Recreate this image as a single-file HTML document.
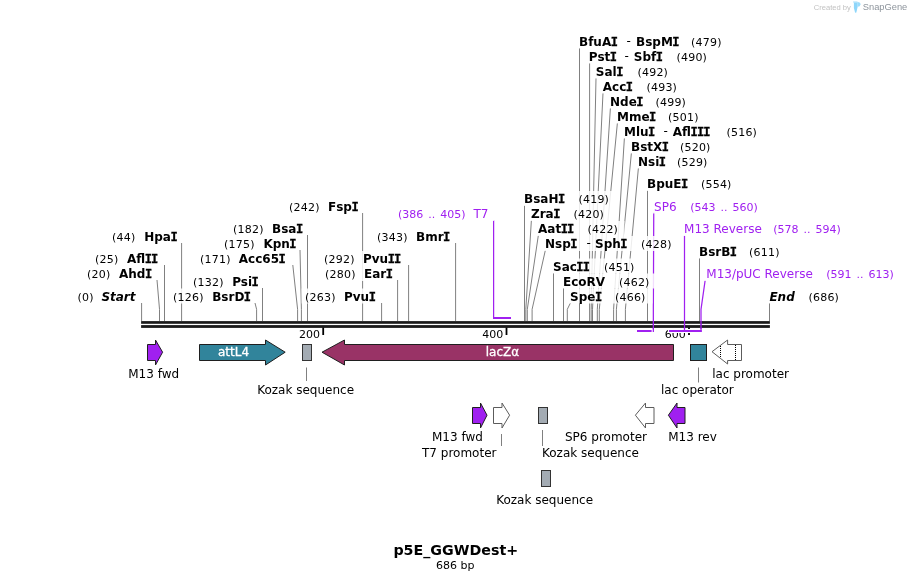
<!DOCTYPE html>
<html><head><meta charset="utf-8"><title>p5E_GGWDest+</title>
<style>
html,body{margin:0;padding:0;background:#fff}
svg{display:block}
text{font-family:"DejaVu Sans","Liberation Sans",sans-serif;fill:#000}
.b{font-size:12px;font-weight:bold}
.bi{font-size:12px;font-weight:bold;font-style:italic}
.mi{font-family:"DejaVu Sans Mono",monospace;font-weight:bold;stroke:#000;stroke-width:.35px}
.n{font-size:11px;letter-spacing:0.2px}
.k{font-size:11px}
.p{font-size:12px;fill:#a020f0}
.pn{font-size:11px;fill:#a020f0;word-spacing:1.5px}
.f{font-size:12px}
.t{font-size:14.25px;font-weight:bold}
.w1{font-family:"Liberation Sans",sans-serif;font-size:7.6px;fill:#c2c2c2}
.w2{font-family:"Liberation Sans",sans-serif;font-size:9.3px;fill:#8d949c}
</style></head><body>
<svg width="911" height="581" viewBox="0 0 911 581">
<rect width="911" height="581" fill="#fff"/>
<g id="lines">
<path d="M579.50 48.0V321.0" stroke="#808080" stroke-width="1" fill="none"/>
<path d="M589.60 63.0V321.0" stroke="#808080" stroke-width="1" fill="none"/>
<path d="M596.00 78.0L591.20 309.3V321.0" stroke="#808080" stroke-width="1" fill="none"/>
<path d="M603.00 93.0L592.50 309.3V321.0" stroke="#808080" stroke-width="1" fill="none"/>
<path d="M610.40 108.0L597.30 309.3V321.0" stroke="#808080" stroke-width="1" fill="none"/>
<path d="M617.40 123.0L599.30 309.3V321.0" stroke="#808080" stroke-width="1" fill="none"/>
<path d="M624.40 138.0L613.60 309.3V321.0" stroke="#808080" stroke-width="1" fill="none"/>
<path d="M631.40 153.0L616.40 309.3V321.0" stroke="#808080" stroke-width="1" fill="none"/>
<path d="M638.40 168.0L625.40 309.3V321.0" stroke="#808080" stroke-width="1" fill="none"/>
<path d="M647.50 190.0V321.0" stroke="#808080" stroke-width="1" fill="none"/>
<path d="M524.50 205.0V321.0" stroke="#808080" stroke-width="1" fill="none"/>
<path d="M531.40 220.0L525.80 309.3V321.0" stroke="#808080" stroke-width="1" fill="none"/>
<path d="M538.40 235.0L527.30 309.3V321.0" stroke="#808080" stroke-width="1" fill="none"/>
<path d="M545.40 250.0L532.10 309.3V321.0" stroke="#808080" stroke-width="1" fill="none"/>
<path d="M553.50 273.0V321.0" stroke="#808080" stroke-width="1" fill="none"/>
<path d="M563.50 288.0V321.0" stroke="#808080" stroke-width="1" fill="none"/>
<path d="M570.40 303.0L567.30 309.3V321.0" stroke="#808080" stroke-width="1" fill="none"/>
<path d="M699.50 258.0V321.0" stroke="#808080" stroke-width="1" fill="none"/>
<path d="M769.50 303.0V321.0" stroke="#808080" stroke-width="1" fill="none"/>
<path d="M141.60 303.0V321.0" stroke="#808080" stroke-width="1" fill="none"/>
<path d="M157.00 280.0L159.50 309.3V321.0" stroke="#808080" stroke-width="1" fill="none"/>
<path d="M164.50 265.0V321.0" stroke="#808080" stroke-width="1" fill="none"/>
<path d="M181.60 243.0V321.0" stroke="#808080" stroke-width="1" fill="none"/>
<path d="M255.00 303.0L256.60 309.3V321.0" stroke="#808080" stroke-width="1" fill="none"/>
<path d="M262.50 288.0V321.0" stroke="#808080" stroke-width="1" fill="none"/>
<path d="M292.80 265.0L297.60 309.3V321.0" stroke="#808080" stroke-width="1" fill="none"/>
<path d="M300.00 250.0L301.40 309.3V321.0" stroke="#808080" stroke-width="1" fill="none"/>
<path d="M307.50 235.0V321.0" stroke="#808080" stroke-width="1" fill="none"/>
<path d="M362.60 213.0V321.0" stroke="#808080" stroke-width="1" fill="none"/>
<path d="M381.60 303.0V321.0" stroke="#808080" stroke-width="1" fill="none"/>
<path d="M397.60 280.0V321.0" stroke="#808080" stroke-width="1" fill="none"/>
<path d="M408.60 265.0V321.0" stroke="#808080" stroke-width="1" fill="none"/>
<path d="M455.60 243.0V321.0" stroke="#808080" stroke-width="1" fill="none"/>
<path d="M493.6 220V319" stroke="#a020f0" stroke-width="1.25" fill="none"/>
<rect x="493" y="317" width="18" height="2" fill="#a020f0"/>
</g>
<g id="plines">
<rect x="637" y="330" width="14.6" height="2" fill="#a020f0"/>
<path d="M653.75 212.6L653.35 309.3V332" stroke="#a020f0" stroke-width="1.25" fill="none"/>
<path d="M684.5 235.5V332" stroke="#a020f0" stroke-width="1.25" fill="none"/>
<path d="M705.2 280L701 309.3V332" stroke="#a020f0" stroke-width="1.25" fill="none"/>
<rect x="669" y="330" width="32.7" height="2" fill="#a020f0"/>
</g>
<g id="halos">
<rect x="576.6" y="33.5" width="151.8" height="15" fill="#fff" fill-opacity="0.85"/>
<rect x="586.4" y="48.5" width="127.2" height="15" fill="#fff" fill-opacity="0.85"/>
<rect x="593.4" y="63.5" width="81.0" height="15" fill="#fff" fill-opacity="0.85"/>
<rect x="600.4" y="78.5" width="83.0" height="15" fill="#fff" fill-opacity="0.85"/>
<rect x="607.6" y="93.5" width="84.8" height="15" fill="#fff" fill-opacity="0.85"/>
<rect x="614.6" y="108.5" width="90.8" height="15" fill="#fff" fill-opacity="0.85"/>
<rect x="621.6" y="123.5" width="142.0" height="15" fill="#fff" fill-opacity="0.85"/>
<rect x="628.6" y="138.5" width="88.4" height="15" fill="#fff" fill-opacity="0.85"/>
<rect x="635.6" y="153.5" width="78.4" height="15" fill="#fff" fill-opacity="0.85"/>
<rect x="644.6" y="176.0" width="93.4" height="15" fill="#fff" fill-opacity="0.85"/>
<rect x="521.6" y="191.0" width="93.9" height="15" fill="#fff" fill-opacity="0.85"/>
<rect x="528.6" y="206.0" width="81.9" height="15" fill="#fff" fill-opacity="0.85"/>
<rect x="535.6" y="221.0" width="88.9" height="15" fill="#fff" fill-opacity="0.85"/>
<rect x="542.6" y="236.0" width="135.9" height="15" fill="#fff" fill-opacity="0.85"/>
<rect x="550.6" y="258.5" width="90.9" height="15" fill="#fff" fill-opacity="0.85"/>
<rect x="560.6" y="273.5" width="95.9" height="15" fill="#fff" fill-opacity="0.85"/>
<rect x="567.6" y="288.5" width="84.9" height="15" fill="#fff" fill-opacity="0.85"/>
<rect x="696.6" y="243.5" width="89.8" height="15" fill="#fff" fill-opacity="0.85"/>
<rect x="767.0" y="288.5" width="78.5" height="15" fill="#fff" fill-opacity="0.85"/>
<rect x="651.4" y="198.5" width="113.6" height="15" fill="#fff" fill-opacity="0.85"/>
<rect x="681.4" y="221.0" width="166.6" height="15" fill="#fff" fill-opacity="0.85"/>
<rect x="703.6" y="266.0" width="197.4" height="15" fill="#fff" fill-opacity="0.85"/>
<rect x="74.0" y="288.5" width="65.1" height="15" fill="#fff" fill-opacity="0.85"/>
<rect x="83.6" y="266.0" width="70.9" height="15" fill="#fff" fill-opacity="0.85"/>
<rect x="91.6" y="251.0" width="70.4" height="15" fill="#fff" fill-opacity="0.85"/>
<rect x="108.6" y="228.5" width="70.5" height="15" fill="#fff" fill-opacity="0.85"/>
<rect x="169.6" y="288.5" width="82.9" height="15" fill="#fff" fill-opacity="0.85"/>
<rect x="189.6" y="273.5" width="70.4" height="15" fill="#fff" fill-opacity="0.85"/>
<rect x="196.6" y="251.0" width="93.7" height="15" fill="#fff" fill-opacity="0.85"/>
<rect x="220.6" y="236.0" width="76.9" height="15" fill="#fff" fill-opacity="0.85"/>
<rect x="229.6" y="221.0" width="75.4" height="15" fill="#fff" fill-opacity="0.85"/>
<rect x="285.6" y="198.5" width="74.5" height="15" fill="#fff" fill-opacity="0.85"/>
<rect x="301.6" y="288.5" width="77.5" height="15" fill="#fff" fill-opacity="0.85"/>
<rect x="321.6" y="266.0" width="73.5" height="15" fill="#fff" fill-opacity="0.85"/>
<rect x="320.6" y="251.0" width="85.5" height="15" fill="#fff" fill-opacity="0.85"/>
<rect x="373.6" y="228.5" width="79.5" height="15" fill="#fff" fill-opacity="0.85"/>
<rect x="395.6" y="206.0" width="98.8" height="15" fill="#fff" fill-opacity="0.85"/>
</g>
<g id="dna">
<rect x="141.1" y="321.1" width="628.8" height="2.7" fill="#1a1a1a"/>
<rect x="141.1" y="325.1" width="628.8" height="2.8" fill="#1a1a1a"/>
</g>
<g id="ticks">
<path d="M323.2 327.5V335" stroke="#000" stroke-width="1.8"/>
<text x="319.9" y="337.6" class="k" text-anchor="end">200</text>
<path d="M506.5 327.5V335" stroke="#000" stroke-width="1.8"/>
<text x="503.2" y="337.6" class="k" text-anchor="end">400</text>
<path d="M689 327.5V335" stroke="#000" stroke-width="1.8"/>
<text x="685.7" y="337.6" class="k" text-anchor="end">600</text>
</g>
<g id="primers">
<rect x="636" y="329" width="19" height="4" fill="#fff"/>
<rect x="668" y="329" width="35" height="4" fill="#fff"/>
<rect x="637" y="330" width="14.6" height="2" fill="#a020f0"/>
<path d="M653.35 321V332" stroke="#a020f0" stroke-width="1.25" fill="none"/>
<path d="M684.5 321V332" stroke="#a020f0" stroke-width="1.25" fill="none"/>
<path d="M701 321V332" stroke="#a020f0" stroke-width="1.25" fill="none"/>
<rect x="669" y="330" width="32.7" height="2" fill="#a020f0"/>
</g>
<g id="labels">
<text x="579.0" y="46.0" class="b">BfuA<tspan class="mi" dx="-0.50">I</tspan></text>
<text x="626.6" y="45.0" class="f">-</text>
<text x="636.0" y="46.0" class="b">BspM<tspan class="mi" dx="-0.50">I</tspan></text>
<text x="691.1" y="46.0" class="n">(479)</text>
<text x="588.8" y="61.0" class="b">Pst<tspan class="mi" dx="-0.50">I</tspan></text>
<text x="624.6" y="60.0" class="f">-</text>
<text x="633.8" y="61.0" class="b">Sbf<tspan class="mi" dx="-0.50">I</tspan></text>
<text x="676.5" y="61.0" class="n">(490)</text>
<text x="595.8" y="76.0" class="b">Sal<tspan class="mi" dx="-0.50">I</tspan></text>
<text x="637.5" y="76.0" class="n">(492)</text>
<text x="602.8" y="91.0" class="b">Acc<tspan class="mi" dx="-0.50">I</tspan></text>
<text x="646.5" y="91.0" class="n">(493)</text>
<text x="610.0" y="106.0" class="b">Nde<tspan class="mi" dx="-0.50">I</tspan></text>
<text x="655.5" y="106.0" class="n">(499)</text>
<text x="617.0" y="121.0" class="b">Mme<tspan class="mi" dx="-0.50">I</tspan></text>
<text x="668.1" y="121.0" class="n">(501)</text>
<text x="624.0" y="136.0" class="b">Mlu<tspan class="mi" dx="-0.50">I</tspan></text>
<text x="663.6" y="135.0" class="f">-</text>
<text x="672.8" y="136.0" class="b">Afl<tspan class="mi" dx="-0.50">I</tspan><tspan class="mi" dx="-0.80">I</tspan><tspan class="mi" dx="-0.80">I</tspan></text>
<text x="726.5" y="136.0" class="n">(516)</text>
<text x="631.0" y="151.0" class="b">BstX<tspan class="mi" dx="-0.50">I</tspan></text>
<text x="680.0" y="151.0" class="n">(520)</text>
<text x="638.0" y="166.0" class="b">Nsi<tspan class="mi" dx="-0.50">I</tspan></text>
<text x="677.0" y="166.0" class="n">(529)</text>
<text x="647.0" y="188.0" class="b">BpuE<tspan class="mi" dx="-0.50">I</tspan></text>
<text x="701.0" y="188.0" class="n">(554)</text>
<text x="524.0" y="203.0" class="b">BsaH<tspan class="mi" dx="-0.50">I</tspan></text>
<text x="578.5" y="203.0" class="n">(419)</text>
<text x="531.0" y="218.0" class="b">Zra<tspan class="mi" dx="-0.50">I</tspan></text>
<text x="573.5" y="218.0" class="n">(420)</text>
<text x="538.0" y="233.0" class="b">Aat<tspan class="mi" dx="-0.50">I</tspan><tspan class="mi" dx="-0.80">I</tspan></text>
<text x="587.5" y="233.0" class="n">(422)</text>
<text x="545.0" y="248.0" class="b">Nsp<tspan class="mi" dx="-0.50">I</tspan></text>
<text x="586.6" y="247.0" class="f">-</text>
<text x="595.0" y="248.0" class="b">Sph<tspan class="mi" dx="-0.50">I</tspan></text>
<text x="641.1" y="248.0" class="n">(428)</text>
<text x="553.0" y="271.0" class="b">Sac<tspan class="mi" dx="-0.50">I</tspan><tspan class="mi" dx="-0.80">I</tspan></text>
<text x="604.0" y="271.0" class="n">(451)</text>
<text x="563.0" y="286.0" class="b">EcoRV</text>
<text x="619.0" y="286.0" class="n">(462)</text>
<text x="570.0" y="301.0" class="b">Spe<tspan class="mi" dx="-0.50">I</tspan></text>
<text x="615.0" y="301.0" class="n">(466)</text>
<text x="699.0" y="256.0" class="b">BsrB<tspan class="mi" dx="-0.50">I</tspan></text>
<text x="749.1" y="256.0" class="n">(611)</text>
<text x="769.4" y="301.0" class="bi">End</text>
<text x="808.5" y="301.0" class="n">(686)</text>
<text x="654.1" y="211.0" class="p">SP6</text>
<text x="690.3" y="211.0" class="pn">(543 .. 560)</text>
<text x="684.1" y="233.0" class="p">M13 Reverse</text>
<text x="773.3" y="233.0" class="pn">(578 .. 594)</text>
<text x="706.3" y="278.0" class="p">M13/pUC Reverse</text>
<text x="826.3" y="278.0" class="pn">(591 .. 613)</text>
<text x="77.5" y="301.0" class="n">(0)</text>
<text x="101.4" y="301.0" class="bi">Start</text>
<text x="87.1" y="278.0" class="n">(20)</text>
<text x="119.0" y="278.0" class="b">Ahd<tspan class="mi" dx="-0.50">I</tspan></text>
<text x="95.1" y="263.0" class="n">(25)</text>
<text x="127.0" y="263.0" class="b">Afl<tspan class="mi" dx="-0.50">I</tspan><tspan class="mi" dx="-0.80">I</tspan></text>
<text x="112.1" y="241.0" class="n">(44)</text>
<text x="144.2" y="241.0" class="b">Hpa<tspan class="mi" dx="-0.50">I</tspan></text>
<text x="173.1" y="301.0" class="n">(126)</text>
<text x="212.2" y="301.0" class="b">BsrD<tspan class="mi" dx="-0.50">I</tspan></text>
<text x="193.1" y="286.0" class="n">(132)</text>
<text x="232.2" y="286.0" class="b">Psi<tspan class="mi" dx="-0.50">I</tspan></text>
<text x="200.1" y="263.0" class="n">(171)</text>
<text x="238.8" y="263.0" class="b">Acc65<tspan class="mi" dx="-0.50">I</tspan></text>
<text x="224.1" y="248.0" class="n">(175)</text>
<text x="263.4" y="248.0" class="b">Kpn<tspan class="mi" dx="-0.50">I</tspan></text>
<text x="233.1" y="233.0" class="n">(182)</text>
<text x="272.0" y="233.0" class="b">Bsa<tspan class="mi" dx="-0.50">I</tspan></text>
<text x="289.1" y="211.0" class="n">(242)</text>
<text x="328.0" y="211.0" class="b">Fsp<tspan class="mi" dx="-0.50">I</tspan></text>
<text x="305.1" y="301.0" class="n">(263)</text>
<text x="344.0" y="301.0" class="b">Pvu<tspan class="mi" dx="-0.50">I</tspan></text>
<text x="325.1" y="278.0" class="n">(280)</text>
<text x="364.0" y="278.0" class="b">Ear<tspan class="mi" dx="-0.50">I</tspan></text>
<text x="324.1" y="263.0" class="n">(292)</text>
<text x="363.0" y="263.0" class="b">Pvu<tspan class="mi" dx="-0.50">I</tspan><tspan class="mi" dx="-0.80">I</tspan></text>
<text x="377.1" y="241.0" class="n">(343)</text>
<text x="416.0" y="241.0" class="b">Bmr<tspan class="mi" dx="-0.50">I</tspan></text>
<text x="397.9" y="218.0" class="pn">(386 .. 405)</text>
<text x="473.4" y="218.0" class="p">T7</text>
</g>
<g id="features">
<path d="M147.5 344.5H155.5V340L162.6 352.2L155.5 365V360.5H147.5Z" fill="#a020f0" stroke="#1f1f1f" stroke-width="1" stroke-linejoin="miter"/>
<path d="M199.5 344.5H265.5V340L285.2 352.2L265.5 365V360.5H199.5Z" fill="#31849b" stroke="#1f1f1f" stroke-width="1" stroke-linejoin="miter"/>
<rect x="302.5" y="344.5" width="9.0" height="16.0" fill="#a3abb3" stroke="#333" stroke-width="1"/>
<path d="M673.5 344.5H344.5V340L322 352.2L344.5 365V360.5H673.5Z" fill="#993366" stroke="#1f1f1f" stroke-width="1" stroke-linejoin="miter"/>
<rect x="690.5" y="344.5" width="16.0" height="16.0" fill="#31849b" stroke="#1f1f1f" stroke-width="1"/>
<path d="M741.5 344.5H727.6V340L712 351.7L727.6 364V360.5H741.5Z" fill="#fff" stroke="#5c5c5c" stroke-width="1" stroke-linejoin="miter"/>
<path d="M720.5 346V357M735.5 345V360" stroke="#000" stroke-width="1" stroke-dasharray="1 1" fill="none" shape-rendering="crispEdges"/>
<path d="M472.5 407.5H480.5V403L487 415.2L480.5 428V423.5H472.5Z" fill="#a020f0" stroke="#1f1f1f" stroke-width="1" stroke-linejoin="miter"/>
<path d="M493.5 407.5H502V403L509.6 415.2L502 428V423.5H493.5Z" fill="#fff" stroke="#5c5c5c" stroke-width="1" stroke-linejoin="miter"/>
<rect x="538.5" y="407.5" width="9.0" height="16.0" fill="#a3abb3" stroke="#333" stroke-width="1"/>
<path d="M654 407.5H645.5V403L635.4 415.2L645.5 428V423.5H654Z" fill="#fff" stroke="#5c5c5c" stroke-width="1" stroke-linejoin="miter"/>
<path d="M685 407.5H677V403L668.4 415.2L677 428V423.5H685Z" fill="#a020f0" stroke="#1f1f1f" stroke-width="1" stroke-linejoin="miter"/>
<rect x="541.5" y="470.5" width="9.0" height="16.0" fill="#a3abb3" stroke="#333" stroke-width="1"/>
<path d="M306.5 367.5V381" stroke="#808080" stroke-width="1"/>
<path d="M698.5 367.5V382.5" stroke="#808080" stroke-width="1"/>
<path d="M501.5 434V446" stroke="#808080" stroke-width="1"/>
<path d="M542.5 430V446" stroke="#808080" stroke-width="1"/>
<text x="128.2" y="377.6" class="f">M13 fwd</text>
<text x="233.5" y="356.4" class="f" text-anchor="middle" style="fill:#fff;stroke:#fff;stroke-width:.3px">attL4</text>
<text x="257.2" y="394" class="f">Kozak sequence</text>
<text x="502.4" y="356" class="f" text-anchor="middle" style="fill:#fff;stroke:#fff;stroke-width:.3px">lacZα</text>
<text x="712.2" y="377.6" class="f">lac promoter</text>
<text x="661.0" y="393.6" class="f">lac operator</text>
<text x="432.0" y="440.6" class="f">M13 fwd</text>
<text x="422.0" y="456.6" class="f">T7 promoter</text>
<text x="542.0" y="456.6" class="f">Kozak sequence</text>
<text x="565.0" y="440.6" class="f">SP6 promoter</text>
<text x="668.2" y="440.6" class="f">M13 rev</text>
<text x="496.2" y="504" class="f">Kozak sequence</text>
</g>
<text x="455.8" y="555" class="t" text-anchor="middle">p5E_GGWDest+</text>
<text x="455.2" y="568.6" class="k" text-anchor="middle">686 bp</text>
<g id="wm">
<text x="813.7" y="10" class="w1">Created by</text>
<rect x="853.1" y="1.2" width="4.4" height="1.6" fill="#c6eafd"/>
<path d="M853.9 2.6H857.6V7L856.4 12.3Q855.7 13.3 855 12.3L853.9 8Z" fill="#8ed6fa"/>
<path d="M857.4 2.1Q860.7 2 860.5 4.6Q860.2 6.9 857.5 6.8Z" fill="#9cdbfb"/>
<text x="862.8" y="10.2" class="w2">SnapGene</text>
</g>
</svg>
</body></html>
